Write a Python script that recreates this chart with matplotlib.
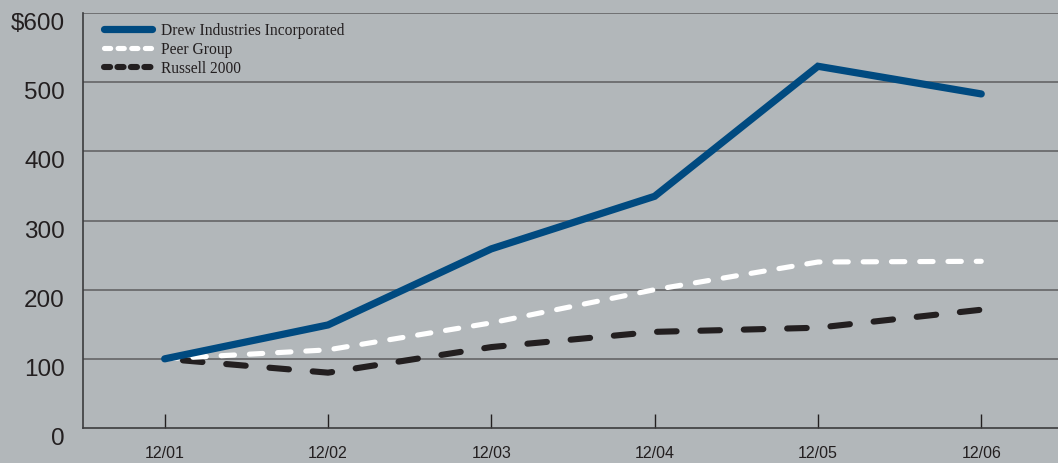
import matplotlib
matplotlib.use('Agg')
from matplotlib import pyplot as plt
from matplotlib.lines import Line2D

# Five-year cumulative total return, $100 invested 12/01
years = ['12/01', '12/02', '12/03', '12/04', '12/05', '12/06']
drew = [100, 149, 259, 335, 523, 483]
peer = [100, 113, 152, 200, 240, 241]
russell = [100, 80, 117, 139, 145, 171]
y_labels = ['0', '100', '200', '300', '400', '500', '$600']
names = ['Drew Industries Incorporated', 'Peer Group', 'Russell 2000']

bg = '#b2b7ba'
ink = '#231f20'
blue = '#004a80'

fig = plt.figure(figsize=(10.58, 4.63), dpi=100, facecolor=bg)
ax = fig.add_axes([0.0785, 0.0756, 0.9215, 0.8963], facecolor=bg)

x = list(range(len(years)))

# grid first so the lines sit on top
for v in range(100, 700, 100):
    ax.axhline(v, color='#6b6b6d', lw=1.3, zorder=1)

ax.plot(x, russell, color=ink, lw=4.4, dash_capstyle='round',
        linestyle=(4.1, (3.2, 3.9)), zorder=3)
ax.plot(x, peer, color='white', lw=3.7, dash_capstyle='round',
        dashes=(2.6, 2.9), zorder=4)
ax.plot(x, drew, color=blue, lw=5.2, solid_capstyle='round',
        solid_joinstyle='miter', zorder=5)

ax.set_xlim(-0.5, 5.47)
ax.set_ylim(0, 600)

ax.set_xticks(x)
ax.set_xticklabels(years, fontsize=11.5, family='Liberation Sans', color=ink)
ax.tick_params(axis='x', direction='in', length=10, width=1, color=ink, pad=13)
ax.set_yticks(range(0, 700, 100))
ax.set_yticklabels(y_labels, fontsize=17.5, family='Liberation Sans', color=ink)
ax.tick_params(axis='y', length=0, pad=13)
for lab in ax.get_yticklabels():
    lab.set_verticalalignment('top')

for side in ['top', 'right']:
    ax.spines[side].set_visible(False)
for side in ['left', 'bottom']:
    ax.spines[side].set_color('#3c3c3e')
    ax.spines[side].set_linewidth(1.2)

# legend keys use tighter dashes than the plotted lines
keys = [
    Line2D([], [], color=blue, lw=5.2, solid_capstyle='round'),
    Line2D([], [], color='white', lw=3.7, dash_capstyle='round', dashes=(1.2, 1.45)),
    Line2D([], [], color=ink, lw=4.4, dash_capstyle='round', dashes=(1.0, 1.2)),
]
leg = ax.legend(keys, names, loc='upper left', bbox_to_anchor=(0.007, 1.01),
                frameon=False, handlelength=3.1, handletextpad=0.55,
                labelspacing=0.19,
                prop={'family': 'Liberation Serif', 'size': 11.2})
for t in leg.get_texts():
    t.set_color(ink)

plt.savefig('out.png', dpi=100, facecolor=bg)
